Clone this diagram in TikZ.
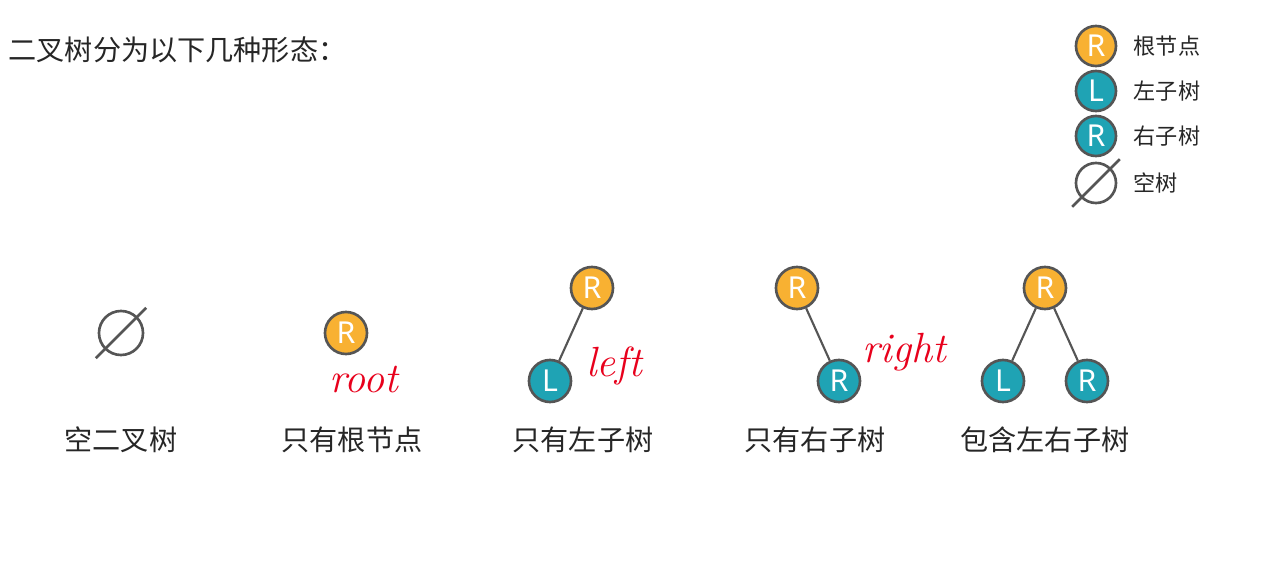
\documentclass[tikz,border=0pt]{standalone}
\usepackage{fontspec}
\setmainfont{Noto Sans CJK SC}
\newfontfamily\btletter{Noto Sans}
\newfontfamily\btnotefont{Latin Modern Roman}
\usepackage{xcolor}
\definecolor{btorange}{HTML}{F8B132}
\definecolor{btteal}{HTML}{1FA3B4}
\definecolor{btline}{HTML}{555555}
\definecolor{btred}{HTML}{E8001C}
\usetikzlibrary{positioning}
\tikzset{
  btnode/.style={circle,draw=btline,line width=0.75pt,minimum size=4.2mm,inner sep=0pt,text=white,font=\btletter\fontsize{8.6}{9}\selectfont},
  btroot/.style={btnode,fill=btorange},
  btchild/.style={btnode,fill=btteal},
  btempty/.style={circle,draw=btline,line width=0.75pt,minimum size=4.4mm,inner sep=0pt},
  btslash/.style={draw=btline,line width=0.75pt,shorten <=-3.5pt,shorten >=-3.5pt},
  btedge/.style={draw=btline,line width=0.6pt},
  btlabel/.style={font=\fontsize{8}{9}\selectfont,text=black!85},
  btkey/.style={font=\fontsize{6.3}{7}\selectfont,text=black!85,anchor=west,inner sep=0pt},
  btnote/.style={font=\btnotefont\itshape\fontsize{12}{13}\selectfont,text=btred},
}

\begin{document}
\begin{tikzpicture}[x=0.01cm,y=-0.01cm]
\useasboundingbox[fill=white] (0,0) rectangle (1262,573);
\node[anchor=west,inner sep=0pt,font=\fontsize{8}{9}\selectfont,text=black!85] (title) at (8,50) {二叉树分为以下几种形态：};

% legend
\node[btroot,minimum size=4mm] (kroot) at (1096,46) {R};
\node[btchild,minimum size=4mm] (kleft) at (1096,91) {L};
\node[btchild,minimum size=4mm] (kright) at (1096,136) {R};
\node[btempty,minimum size=4mm] (kempty) at (1096,183) {};
\draw[btslash] (kempty.south west) -- (kempty.north east);
\node[btkey] (troot) at (1133,46) {根节点};
\node[btkey] (tleft) at (1133,91) {左子树};
\node[btkey] (tright) at (1133,136) {右子树};
\node[btkey] (tempty) at (1133,183) {空树};

% empty tree
\node[btempty] (e0) at (121,333) {};
\draw[btslash] (e0.south west) -- (e0.north east);

% root only
\node[btroot] (a0) at (346,333) {R};
\node[btnote] (na) at (364,380) {root};

% left subtree only
\node[btroot] (b0) at (592,288) {R};
\node[btchild] (b1) at (550,381) {L};
\draw[btedge] (b0) -- (b1);
\node[btnote] (nb) at (614,366) {left};

% right subtree only
\node[btroot] (c0) at (797,288) {R};
\node[btchild] (c1) at (839,381) {R};
\draw[btedge] (c0) -- (c1);
\node[btnote] (nc) at (904,352) {right};

% both subtrees
\node[btroot] (d0) at (1045,288) {R};
\node[btchild] (d1) at (1003,381) {L};
\node[btchild] (d2) at (1087,381) {R};
\draw[btedge] (d0) -- (d1);
\draw[btedge] (d0) -- (d2);

% captions
\node[btlabel] (le) at (121,440) {空二叉树};
\node[btlabel] (la) at (352,440) {只有根节点};
\node[btlabel] (lb) at (583,440) {只有左子树};
\node[btlabel] (lc) at (815,440) {只有右子树};
\node[btlabel] (ld) at (1045,440) {包含左右子树};
\end{tikzpicture}
\end{document}
